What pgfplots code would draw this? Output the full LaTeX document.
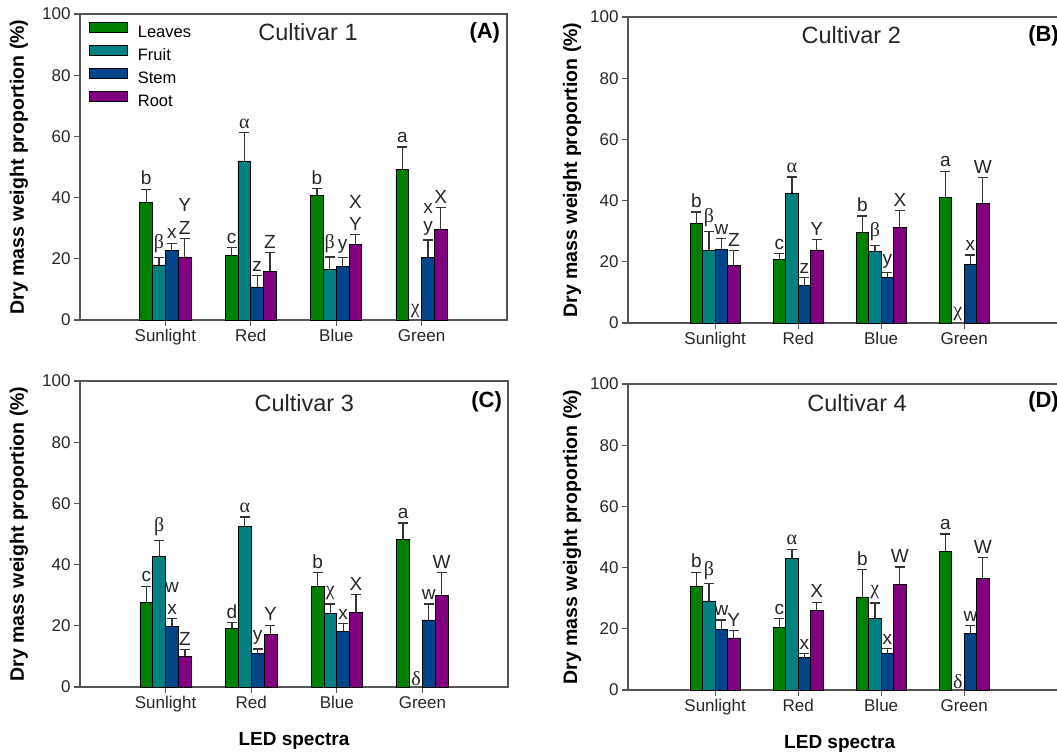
\documentclass[border=0pt]{standalone}
\usepackage{fontspec}
\setmainfont{Liberation Sans}
\newfontfamily\grk{Liberation Serif}
\usepackage{pgfplots}
\pgfplotsset{compat=1.18}
\newcommand\fs[1]{\fontsize{#1}{#1}\selectfont}
\protected\def\Ga{{\grk\fs{20}α}}
\protected\def\Gb{{\grk\fs{20}β}}
\protected\def\Gc{{\grk\fs{20}χ}}
\protected\def\Gd{{\grk\fs{20}δ}}
\definecolor{cL}{HTML}{008000}
\definecolor{cF}{HTML}{008080}
\definecolor{cS}{HTML}{00448A}
\definecolor{cR}{HTML}{800080}
\definecolor{axg}{HTML}{555555}
\pgfplotsset{
  panel/.style={scale only axis, height=306pt, ymin=0, ymax=100,
    ytick={0,20,...,100}, xtick={1,2,3,4}, xticklabels={Sunlight,Red,Blue,Green},
    tick align=outside, tick pos=left, major tick length=6pt,
    axis line style={draw=axg, line width=1.3pt},
    every tick/.style={draw=axg, line width=1.3pt},
    tick label style={font=\fs{17}, text=black!85},
    /pgf/number format/assume math mode=true, clip=false,
    ylabel={Dry mass weight proportion (\%)},
    every axis y label/.style={at={(rel axis cs:0,0.5)}, xshift=#1, rotate=90, anchor=center, font=\bfseries\fs{19.5}, text=black},
    every axis x label/.style={at={(axis cs:2.5,0)}, yshift=-54pt, anchor=center, font=\bfseries\fs{19}, text=black}},
  bars/.style={ybar, bar width=0.15, bar shift=0pt, fill=#1, draw=black, line width=0.7pt,
    legend image code/.code={\draw[##1] (0pt,1pt) rectangle (38pt,11pt);},
    error bars/.cd, y dir=plus, y explicit,
    error bar style={draw=black!80, line width=1.3pt},
    error mark options={rotate=90, draw=black!80, line width=1.3pt, mark size=5pt}},
  labs/.style={draw=none, forget plot, nodes near coords, point meta=explicit symbolic,
    nodes near coords style={anchor=south, inner sep=1pt, yshift=3pt, font=\fs{19}, text=black!85}},
}
\begin{document}
\begin{tikzpicture}[x=1pt,y=1pt]
\useasboundingbox (0,0) rectangle (1057,754);
% ---------------- Panel A
\begin{axis}[panel=-61pt, at={(80pt,434pt)}, anchor=south west, width=427pt, xmin=0, xmax=5,
  legend style={at={(axis cs:0.105,97.4)}, anchor=north west, draw=none, fill=none, inner sep=0pt,
    font=\fs{16.5}, nodes={inner sep=0pt, text height=12pt, text depth=3.5pt}, row sep=3.7pt,
    /tikz/every odd column/.style={column sep=10pt}},
  legend cell align=left]
\addplot[bars=cL] coordinates {(0.775,38.3) +- (0,4.4) (1.775,21.0) +- (0,2.7) (2.775,40.6) +- (0,2.3) (3.775,49.3) +- (0,7.2)};
\addplot[bars=cF] coordinates {(0.925,18.0) +- (0,2.5) (1.925,52.0) +- (0,9.3) (2.925,16.6) +- (0,4.0)};
\addplot[bars=cS] coordinates {(1.075,22.7) +- (0,2.4) (2.075,10.8) +- (0,3.8) (3.075,17.4) +- (0,3.0) (4.075,20.5) +- (0,5.6)};
\addplot[bars=cR] coordinates {(1.225,20.6) +- (0,6.1) (2.225,15.9) +- (0,6.1) (3.225,24.8) +- (0,3.1) (4.225,29.5) +- (0,7.3)};
\legend{Leaves,Fruit,Stem,Root}
\addplot[labs] coordinates {(0.775,42.7) [b] (0.925,20.5) [\Gb] (1.075,25.1) [x] (1.225,26.7) [Z] (1.225,34.0) [Y]
  (1.775,23.7) [c] (1.925,61.3) [\Ga] (2.075,14.6) [z] (2.225,22.0) [Z]
  (2.775,42.9) [b] (2.925,20.6) [\Gb] (3.075,20.4) [y] (3.225,27.9) [Y] (3.225,35.2) [X]
  (3.775,56.5) [a] (3.925,-0.8) [\Gc] (4.075,26.1) [y] (4.075,33.4) [x] (4.225,36.8) [X]};
\node[font=\fs{23.5}, text=black!85] at (axis cs:2.67,94.1) {Cultivar 1};
\node[font=\bfseries\fs{22}, anchor=east] at (axis cs:4.96,94) {(A)};
\end{axis}
% ---------------- Panel B
\begin{axis}[panel=-56pt, at={(628pt,431pt)}, anchor=south west, width=452.35pt, xmin=-0.05, xmax=5.4]
\addplot[bars=cL] coordinates {(0.775,32.4) +- (0,3.9) (1.775,20.7) +- (0,2.0) (2.775,29.6) +- (0,5.4) (3.775,41.1) +- (0,8.5)};
\addplot[bars=cF] coordinates {(0.925,23.7) +- (0,6.3) (1.925,42.5) +- (0,5.2) (2.925,23.3) +- (0,2.1)};
\addplot[bars=cS] coordinates {(1.075,24.1) +- (0,3.4) (2.075,12.3) +- (0,2.6) (3.075,15.0) +- (0,1.6) (4.075,19.2) +- (0,3.0)};
\addplot[bars=cR] coordinates {(1.225,18.8) +- (0,4.8) (2.225,23.9) +- (0,3.4) (3.225,31.2) +- (0,5.5) (4.225,39.1) +- (0,8.5)};
\addplot[labs] coordinates {(0.775,36.3) [b] (0.925,30.0) [\Gb] (1.075,27.5) [w] (1.225,23.6) [Z]
  (1.775,22.7) [c] (1.925,47.7) [\Ga] (2.075,14.9) [z] (2.225,27.3) [Y]
  (2.775,35.0) [b] (2.925,25.4) [\Gb] (3.075,16.6) [y] (3.225,36.7) [X]
  (3.775,49.6) [a] (3.925,-0.8) [\Gc] (4.075,22.2) [x] (4.225,47.6) [W]};
\node[font=\fs{23.5}, text=black!85] at (axis cs:2.64,94.1) {Cultivar 2};
\node[font=\bfseries\fs{22}, anchor=west] at (axis cs:4.73,94) {(B)};
\end{axis}
% ---------------- Panel C
\begin{axis}[panel=-61pt, at={(80pt,67pt)}, anchor=south west, width=428pt, xmin=0, xmax=5, xlabel={LED spectra}]
\addplot[bars=cL] coordinates {(0.775,27.6) +- (0,5.3) (1.775,19.1) +- (0,1.9) (2.775,33.0) +- (0,4.4) (3.775,48.3) +- (0,5.3)};
\addplot[bars=cF] coordinates {(0.925,42.8) +- (0,5.1) (1.925,52.6) +- (0,3.0) (2.925,24.0) +- (0,3.1)};
\addplot[bars=cS] coordinates {(1.075,19.8) +- (0,2.5) (2.075,10.9) +- (0,1.5) (3.075,18.2) +- (0,2.5) (4.075,21.9) +- (0,5.2)};
\addplot[bars=cR] coordinates {(1.225,10.0) +- (0,2.3) (2.225,17.1) +- (0,3.1) (3.225,24.5) +- (0,5.7) (4.225,30.0) +- (0,7.5)};
\addplot[labs] coordinates {(0.775,32.9) [c] (0.925,47.9) [\Gb] (1.075,22.3) [x] (1.075,29.6) [w] (1.225,12.3) [Z]
  (1.775,21.0) [d] (1.925,55.6) [\Ga] (2.075,12.4) [y] (2.225,20.2) [Y]
  (2.775,37.4) [b] (2.925,27.1) [\Gc] (3.075,20.7) [x] (3.225,30.2) [X]
  (3.775,53.6) [a] (3.925,-0.8) [\Gd] (4.075,27.1) [w] (4.225,37.5) [W]};
\node[font=\fs{23.5}, text=black!85] at (axis cs:2.62,92.8) {Cultivar 3};
\node[font=\bfseries\fs{22}, anchor=east] at (axis cs:4.97,93.1) {(C)};
\end{axis}
% ---------------- Panel D
\begin{axis}[panel=-56pt, at={(628pt,64pt)}, anchor=south west, width=452.35pt, xmin=-0.05, xmax=5.4, xlabel={LED spectra}]
\addplot[bars=cL] coordinates {(0.775,34.0) +- (0,4.5) (1.775,20.4) +- (0,2.9) (2.775,30.4) +- (0,9.0) (3.775,45.3) +- (0,5.7)};
\addplot[bars=cF] coordinates {(0.925,29.1) +- (0,5.6) (1.925,43.0) +- (0,3.0) (2.925,23.3) +- (0,5.1)};
\addplot[bars=cS] coordinates {(1.075,19.8) +- (0,3.1) (2.075,10.6) +- (0,1.4) (3.075,11.9) +- (0,1.7) (4.075,18.4) +- (0,2.6)};
\addplot[bars=cR] coordinates {(1.225,17.0) +- (0,2.5) (2.225,26.1) +- (0,2.6) (3.225,34.4) +- (0,5.8) (4.225,36.5) +- (0,6.8)};
\addplot[labs] coordinates {(0.775,38.5) [b] (0.925,34.7) [\Gb] (1.075,22.9) [w] (1.225,19.5) [Y]
  (1.775,23.3) [c] (1.925,46.0) [\Ga] (2.075,12.0) [x] (2.225,28.7) [X]
  (2.775,39.4) [b] (2.925,28.4) [\Gc] (3.075,13.6) [x] (3.225,40.2) [W]
  (3.775,51.0) [a] (3.925,-0.8) [\Gd] (4.075,21.0) [w] (4.225,43.3) [W]};
\node[font=\fs{23.5}, text=black!85] at (axis cs:2.71,93.8) {Cultivar 4};
\node[font=\bfseries\fs{22}, anchor=west] at (axis cs:4.73,94.1) {(D)};
\end{axis}
\end{tikzpicture}
\end{document}
